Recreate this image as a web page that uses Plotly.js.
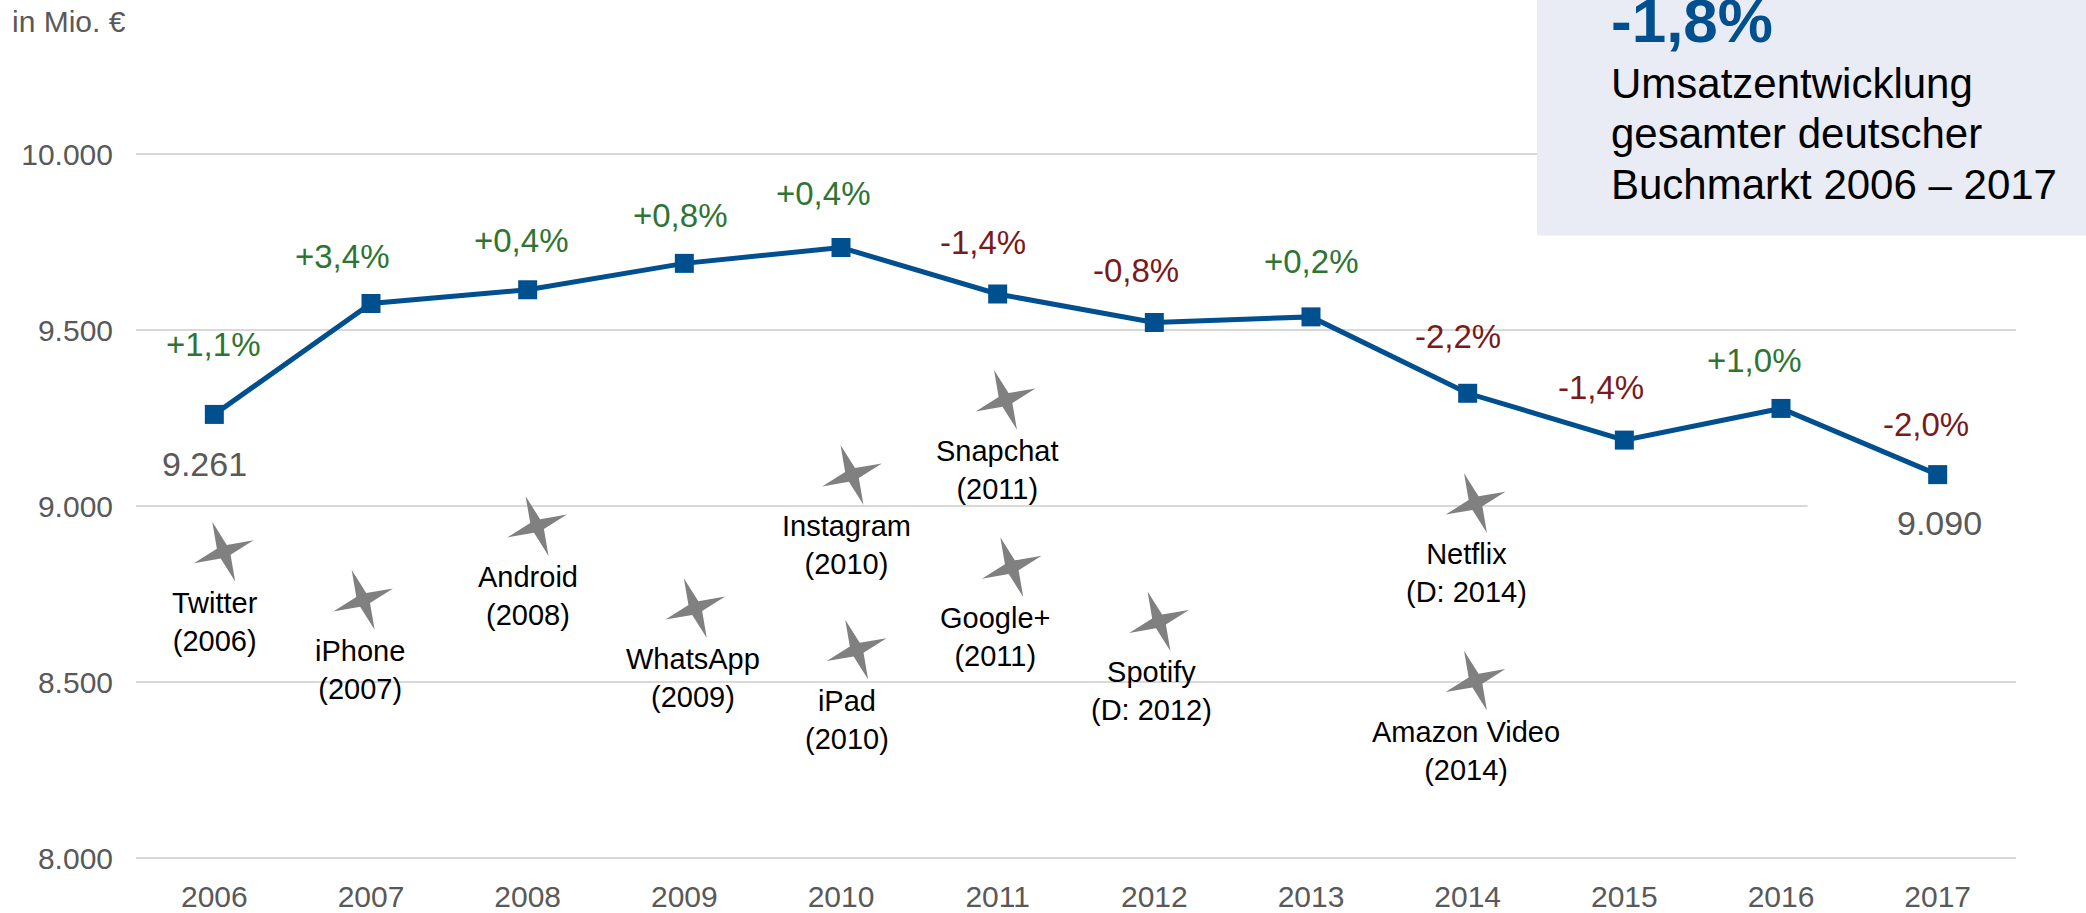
<!DOCTYPE html>
<html>
<head>
<meta charset="utf-8">
<script src="https://cdn.plot.ly/plotly-3.0.1.min.js"></script>
<style>
  html, body { margin: 0; padding: 0; background: #ffffff; }
  #chart { width: 2086px; height: 913px; }
</style>
</head>
<body>
<div id="chart"></div>
<script>
// ---- data ----
const years = [2006, 2007, 2008, 2009, 2010, 2011, 2012, 2013, 2014, 2015, 2016, 2017];
const revenue = [9261, 9576, 9615, 9690, 9735, 9603, 9522, 9538, 9321, 9188, 9278, 9090];
const growthLabels = ['+1,1%', '+3,4%', '+0,4%', '+0,8%', '+0,4%', '-1,4%', '-0,8%', '+0,2%', '-2,2%', '-1,4%', '+1,0%', '-2,0%'];
const yTicks = [8000, 8500, 9000, 9500, 10000];

const milestoneNames = ['Twitter', 'iPhone', 'Android', 'WhatsApp', 'Instagram', 'iPad', 'Snapchat', 'Google+', 'Spotify', 'Netflix', 'Amazon Video'];
const milestoneLaunch = ['(2006)', '(2007)', '(2008)', '(2009)', '(2010)', '(2010)', '(2011)', '(2011)', '(D: 2012)', '(D: 2014)', '(2014)'];
const milestoneX = [2006.06, 2006.95, 2008.06, 2009.07, 2010.07, 2010.10, 2011.05, 2011.09, 2012.03, 2014.05, 2014.05];
const milestoneY = [8871, 8734, 8944, 8711, 9089, 8593, 9302, 8827, 8673, 9009, 8505];

const totalChange = '-1,8%';
const boxLines = ['Umsatzentwicklung', 'gesamter deutscher', 'Buchmarkt 2006 \u2013 2017'];

// ---- styling ----
const FONT = '"Liberation Sans", Arial, sans-serif';
const BLUE = '#004f8f';
const GREEN = '#2e7532';
const RED = '#7a1a1a';
const GRAY = '#595959';
const STAR = '#808080';

// label offsets in pixels (style only)
const growthDx = [-1, -29, -6, -4, -18, -15, -18, 0, -10, -23, -27, -12];
const growthDy = [70, 47, 49, 48, 54, 52, 52, 55, 57, 53, 48, 50];
const milestoneDx = [-9, -3, -9, -2, -5, -10, -8, -17, -8, -9, -10];

// plot geometry (pixels)
const M = { l: 136, r: 70, t: 0, b: 36.7 };
const W = 2086, H = 913;
const PW = W - M.l - M.r, PH = H - M.t - M.b;
const px2paperX = px => (px - M.l) / PW;
const px2paperY = py => (H - M.b - py) / PH;

function fmtThousands(v) {
  return String(v).replace(/\B(?=(\d{3})+(?!\d))/g, '.');
}

function starPath(R, r, deg) {
  const a0 = deg * Math.PI / 180;
  const pts = [];
  for (let i = 0; i < 8; i++) {
    const ang = a0 + i * Math.PI / 4;
    const rad = (i % 2 === 0) ? R : r;
    pts.push([(-rad * Math.sin(ang)).toFixed(2), (rad * Math.cos(ang)).toFixed(2)]);
  }
  return 'M' + pts.map(p => p[0] + ',' + p[1]).join(' L') + ' Z';
}

const traces = [{
  type: 'scatter',
  mode: 'lines+markers',
  x: years,
  y: revenue,
  line: { color: BLUE, width: 5 },
  marker: { symbol: 'square', size: 19, color: BLUE },
  cliponaxis: false,
  hoverinfo: 'x+y',
  showlegend: false
}];

const annotations = [];

// growth labels
growthLabels.forEach((g, i) => {
  annotations.push({
    x: years[i], y: revenue[i], xref: 'x', yref: 'y',
    text: g, showarrow: false,
    xshift: growthDx[i], yshift: growthDy[i],
    font: { family: FONT, size: 33, color: g.charAt(0) === '-' ? RED : GREEN }
  });
});

// first and last value labels
[[0, -10, -50], [years.length - 1, 2, -48]].forEach(([i, dx, dy]) => {
  annotations.push({
    x: years[i], y: revenue[i], xref: 'x', yref: 'y',
    text: fmtThousands(revenue[i]), showarrow: false,
    xshift: dx, yshift: dy,
    font: { family: FONT, size: 34, color: GRAY }
  });
});

// milestone labels
milestoneNames.forEach((n, i) => {
  annotations.push({
    x: milestoneX[i], y: milestoneY[i], xref: 'x', yref: 'y',
    text: n + '<br>' + milestoneLaunch[i], showarrow: false,
    xshift: milestoneDx[i], yshift: -70,
    font: { family: FONT, size: 29, color: '#000000' }
  });
});

// unit label
annotations.push({
  x: px2paperX(10), y: px2paperY(22), xref: 'paper', yref: 'paper',
  xanchor: 'left', yanchor: 'middle',
  text: 'in Mio. \u20ac', showarrow: false,
  font: { family: FONT, size: 30, color: GRAY }
});

// box texts
annotations.push({
  x: px2paperX(1609), y: px2paperY(20.2), xref: 'paper', yref: 'paper',
  xanchor: 'left', yanchor: 'middle',
  text: '<b>' + totalChange + '</b>', showarrow: false,
  font: { family: FONT, size: 62, color: BLUE }
});
const boxBaselines = [98.3, 148.3, 199.3];
boxLines.forEach((t, i) => {
  annotations.push({
    x: px2paperX(1609), y: px2paperY(boxBaselines[i] - 14.6), xref: 'paper', yref: 'paper',
    xanchor: 'left', yanchor: 'middle',
    text: t, showarrow: false,
    font: { family: FONT, size: 42, color: '#000000' }
  });
});

const shapes = [];
// info box
shapes.push({
  type: 'rect', xref: 'paper', yref: 'paper',
  x0: px2paperX(1537), x1: px2paperX(2090), y0: px2paperY(235.7), y1: px2paperY(-5),
  fillcolor: '#e9ecf4', line: { width: 0 }, layer: 'above'
});
// white backing of the last data label (cuts the 9.000 gridline)
shapes.push({
  type: 'rect', xref: 'x', yref: 'y',
  x0: 2016.17, x1: 2017.6, y0: 8988, y1: 9012,
  fillcolor: '#ffffff', line: { width: 0 }, layer: 'above'
});
// milestone stars
const starD = starPath(32, 7.5, 21);
milestoneX.forEach((mx, i) => {
  shapes.push({
    type: 'path', xref: 'x', yref: 'y',
    xsizemode: 'pixel', ysizemode: 'pixel',
    xanchor: mx, yanchor: milestoneY[i],
    path: starD,
    fillcolor: STAR, line: { width: 0 }, layer: 'above'
  });
});

const layout = {
  width: W, height: H,
  margin: M,
  paper_bgcolor: '#ffffff', plot_bgcolor: '#ffffff',
  separators: ',.',
  showlegend: false,
  font: { family: FONT, color: GRAY },
  xaxis: {
    type: 'linear',
    range: [2005.5, 2017.5],
    tickvals: years,
    ticktext: years.map(String),
    showgrid: false, zeroline: false, showline: false,
    ticks: '',
    tickfont: { family: FONT, size: 30, color: GRAY },
    fixedrange: true
  },
  yaxis: {
    range: [7950, 10438],
    tickvals: yTicks,
    tickformat: ',d',
    showgrid: true, gridcolor: '#d9d9d9', gridwidth: 2,
    zeroline: false, showline: false,
    ticks: '',
    ticklabelstandoff: 22,
    tickfont: { family: FONT, size: 30, color: GRAY },
    fixedrange: true
  },
  annotations: annotations,
  shapes: shapes
};

Plotly.newPlot('chart', traces, layout, { displayModeBar: false, staticPlot: true });
</script>
</body>
</html>
